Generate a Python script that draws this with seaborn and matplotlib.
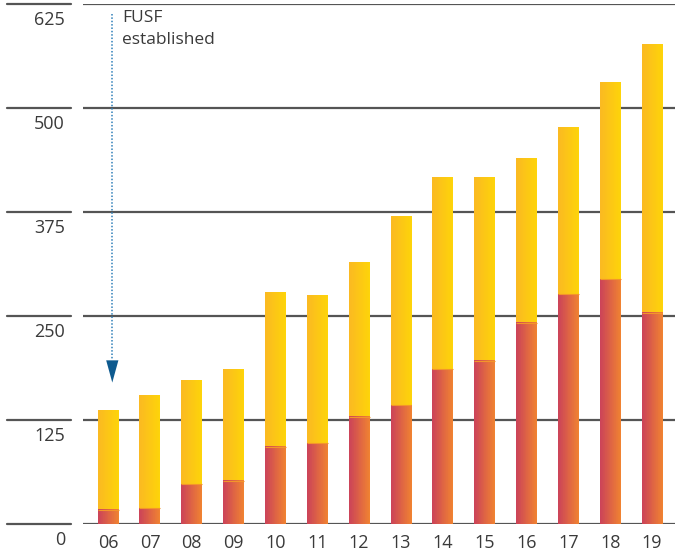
import numpy as np
import pandas as pd
import matplotlib
matplotlib.use('Agg')
import matplotlib.pyplot as plt
import matplotlib.transforms as mtransforms
from matplotlib.colors import LinearSegmentedColormap
import seaborn as sns

# values
years = ['06', '07', '08', '09', '10', '11', '12', '13', '14', '15', '16', '17', '18', '19']
totals = [137, 154, 173, 186, 278, 275, 314, 369, 416, 416, 439, 476, 531, 576]
lower = [17, 19, 48, 52, 93, 97, 129, 143, 186, 196, 242, 276, 294, 254]
yticks = [0, 125, 250, 375, 500, 625]

RED = ('#cc4459', '#f08232')
YELLOW = ('#fbba22', '#fed40a')
GRID = '#555555'
TEXT = '#3a3a3a'


def gradient_fill(ax, patch, c0, c1, z):
    ''' replaces a bar's flat fill with a left-to-right gradient '''
    x0, y0 = patch.get_x(), patch.get_y()
    w, h = patch.get_width(), patch.get_height()
    cmap = LinearSegmentedColormap.from_list('g', [c0, c1])
    grad = np.linspace(0, 1, 32).reshape(1, -1)
    ax.imshow(grad, extent=[x0, x0 + w, y0, y0 + h], aspect='auto',
              cmap=cmap, origin='lower', zorder=z, interpolation='nearest')
    patch.set_facecolor('none')
    patch.set_edgecolor('none')


sns.set_style('white')
plt.rcParams['font.family'] = ['Open Sans', 'DejaVu Sans']

df = pd.DataFrame({'year': years, 'total': totals, 'lower': lower})

fig = plt.figure(figsize=(6.75, 5.56), dpi=100)
ax = fig.add_axes([83 / 675, 32 / 556, 592 / 675, 520 / 556])

sns.barplot(data=df, x='year', y='total', color=YELLOW[1], width=0.5, ax=ax)
sns.barplot(data=df, x='year', y='lower', color=RED[0], width=0.5, ax=ax)

n = len(years)
for p in ax.patches[:n]:
    gradient_fill(ax, p, YELLOW[0], YELLOW[1], 2)
for p in ax.patches[n:2 * n]:
    gradient_fill(ax, p, RED[0], RED[1], 3)
    x0, top = p.get_x(), p.get_y() + p.get_height()
    ax.plot([x0, x0 + p.get_width()], [top, top], color='#f3952a', lw=0.8, zorder=4,
            solid_capstyle='butt')

ax.set_xlim(-0.6, 13.55)
ax.set_ylim(0, 625)
for s in ax.spines.values():
    s.set_visible(False)

# gridlines, with a short detached piece under each y label
ax.set_yticks(yticks)
ax.set_axisbelow(True)
ax.yaxis.grid(True, color=GRID, lw=1.6)
trans = mtransforms.blended_transform_factory(ax.transAxes, ax.transData)
for y in yticks:
    ax.plot([-76 / 592, -12 / 592], [y, y], color=GRID, lw=1.6, transform=trans,
            clip_on=False)

ax.tick_params(axis='y', length=0, pad=13, labelsize=13, labelcolor=TEXT)
ax.tick_params(axis='x', length=0, pad=7, labelsize=13, labelcolor=TEXT)
shift = mtransforms.ScaledTranslation(0, -7 / 100, fig.dpi_scale_trans)
for lab in ax.get_yticklabels():
    lab.set_verticalalignment('top')
    lab.set_transform(lab.get_transform() + shift)
ax.set_xlabel('')
ax.set_ylabel('')

# FUSF marker
ax.plot([0.1, 0.1], [613, 197], color='#2f7fb8', lw=1.1, ls=(0, (1, 1.2)), zorder=5)
ax.annotate('', xy=(0.1, 170), xytext=(0.1, 200),
            arrowprops=dict(arrowstyle='-|>,head_length=0.8,head_width=0.22',
                            mutation_scale=20, color='#0d5a8f', lw=0,
                            shrinkA=0, shrinkB=0), zorder=6)
ax.text(0.33, 618, 'FUSF\nestablished', va='top', ha='left', fontsize=12.5,
        color=TEXT, linespacing=1.5)

fig.savefig('out.png', dpi=100)
